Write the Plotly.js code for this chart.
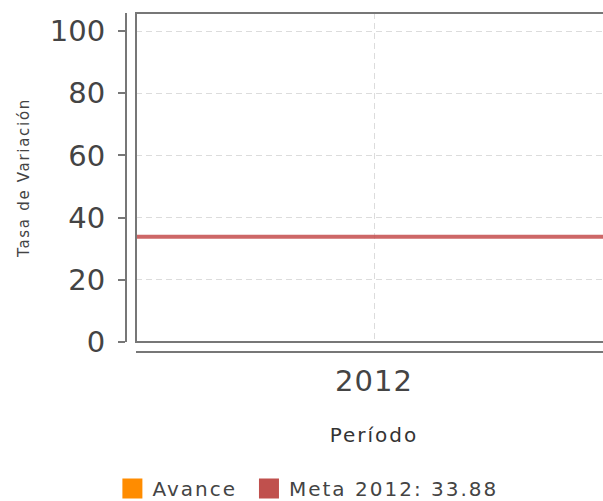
<!DOCTYPE html>
<html>
<head>
<meta charset="utf-8">
<script src="https://cdn.plot.ly/plotly-3.0.1.min.js"></script>
<style>
html, body { margin: 0; padding: 0; overflow: hidden; background: #fff; }
#chart { width: 620px; height: 501px; }
text.legendtext { letter-spacing: 2px; }
text.xtitle { letter-spacing: 2px; }
text.ytitle { letter-spacing: 1.7px; }
.xtick text { letter-spacing: 1px; }
</style>
</head>
<body>
<div id="chart"></div>
<script>
const categories = ['2012'];
const avanceValues = [null];
const metaValue = [33.88];
const metaLabel = 'Meta 2012';
const yTicks = [0, 20, 40, 60, 80, 100];
const yTickLabels = ['0', '20', '40', '60', '80', '100'];

const fontFam = 'DejaVu Sans, sans-serif';

const traces = [
  {
    type: 'scatter', mode: 'markers', name: 'Avance', x: categories, y: avanceValues,
    marker: { color: '#ff8c00', symbol: 'square', size: 16 }, showlegend: true, hoverinfo: 'skip'
  },
  {
    type: 'scatter', mode: 'markers', name: metaLabel + ': ' + metaValue[0].toFixed(2), x: categories, y: [null],
    marker: { color: '#c0504d', symbol: 'square', size: 16 }, showlegend: true, hoverinfo: 'skip'
  },
  {
    type: 'scatter', mode: 'lines', xaxis: 'x2', yaxis: 'y',
    x: [0, 1], y: [metaValue[0], metaValue[0]],
    line: { color: 'rgba(196,76,76,0.85)', width: 4 }, showlegend: false, hoverinfo: 'skip'
  }
];

const layout = {
  width: 620, height: 501,
  margin: { l: 126, r: 8, t: 13, b: 149, autoexpand: false },
  paper_bgcolor: '#fff', plot_bgcolor: '#fff',
  font: { family: fontFam, color: '#444' },
  showlegend: true,
  legend: {
    orientation: 'h', x: -0.028, xanchor: 'left', y: -0.403, yanchor: 'middle',
    font: { size: 20, color: '#444', family: fontFam },
    itemwidth: 30, itemsizing: 'trace', traceorder: 'normal'
  },
  xaxis: {
    type: 'category', domain: [10 / 486, 1], anchor: 'free', position: 0,
    showline: true, linecolor: '#777', linewidth: 2,
    showgrid: true, gridcolor: '#dcdcdc', griddash: '6px,4px', gridwidth: 1,
    ticks: 'outside', ticklen: 3, tickcolor: 'rgba(0,0,0,0)',
    tickfont: { size: 29, color: '#444', family: fontFam },
    title: { text: 'Período', font: { size: 20, color: '#333', family: fontFam }, standoff: 30 },
    zeroline: false, automargin: false, fixedrange: true
  },
  xaxis2: {
    overlaying: 'x', range: [0, 1], visible: false, showgrid: false, zeroline: false, fixedrange: true
  },
  yaxis: {
    domain: [10 / 339, 1], anchor: 'free', position: 0,
    range: [0, 105.8],
    tickvals: yTicks, ticktext: yTickLabels,
    showline: true, linecolor: '#777', linewidth: 2,
    ticks: 'outside', ticklen: 7, tickcolor: '#777', tickwidth: 2,
    ticklabelstandoff: 7,
    tickfont: { size: 29, color: '#444', family: fontFam },
    showgrid: true, gridcolor: '#dcdcdc', griddash: '6px,4px', gridwidth: 1,
    zeroline: false,
    title: { text: 'Tasa de Variación', font: { size: 15, color: '#444', family: fontFam }, standoff: 16 },
    automargin: false, fixedrange: true
  },
  shapes: [
    {
      type: 'rect', xref: 'x domain', yref: 'y domain', x0: 0, x1: 1, y0: 0, y1: 1,
      line: { color: '#777', width: 2 }, fillcolor: 'rgba(0,0,0,0)', layer: 'above'
    }
  ]
};

Plotly.newPlot('chart', traces, layout, { displayModeBar: false, staticPlot: true }).then(function (gd) {
  // enlarge the legend swatches to match the reference's 20px squares
  gd.querySelectorAll('.legend .legendpoints path.scatterpts').forEach(function (p) {
    p.setAttribute('d', 'M10,10H-10V-10H10Z');
  });
  // widen the gap between legend entries a little
  var items = gd.querySelectorAll('.legend g.traces');
  items.forEach(function (g, i) {
    if (i === 0) return;
    var t = g.getAttribute('transform') || '';
    var m = t.match(/translate\(\s*([-\d.]+)[ ,]+([-\d.]+)\s*\)/);
    if (m) g.setAttribute('transform', 'translate(' + (parseFloat(m[1]) + 7 * i) + ',' + m[2] + ')');
  });
});
</script>
</body>
</html>
